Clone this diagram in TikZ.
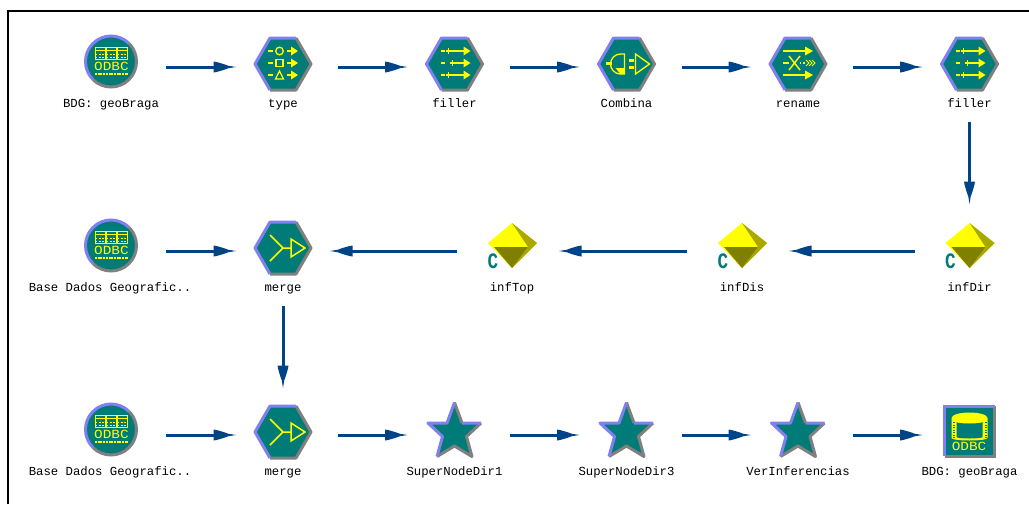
\documentclass[tikz,border=0pt]{standalone}
\usepackage{fontspec}
\setmonofont{Liberation Mono}
\usetikzlibrary{arrows.meta}
\definecolor{tealfill}{HTML}{007B78}
\definecolor{edgeblue}{HTML}{8080F0}
\definecolor{edgegray}{HTML}{808080}
\definecolor{linkblue}{HTML}{004488}
\definecolor{glyph}{HTML}{FFFF00}
\definecolor{olive}{HTML}{808000}
\definecolor{olivelight}{HTML}{A8A800}
\pgfdeclarearrow{
  name=LinkHead,
  setup code={
    \pgfarrowssettipend{22.5pt}
    \pgfarrowssetlineend{2pt}
    \pgfarrowssetbackend{0pt}
    \pgfarrowssetvisualbackend{0pt}
    \pgfarrowshullpoint{22.5pt}{0pt}
    \pgfarrowsupperhullpoint{0pt}{5.5pt}
  },
  drawing code={
    \pgfpathmoveto{\pgfqpoint{0pt}{5.5pt}}
    \pgfpathlineto{\pgfqpoint{3pt}{5pt}}
    \pgfpathlineto{\pgfqpoint{10pt}{3pt}}
    \pgfpathlineto{\pgfqpoint{15pt}{1.2pt}}
    \pgfpathlineto{\pgfqpoint{22.5pt}{0pt}}
    \pgfpathlineto{\pgfqpoint{15pt}{-1.2pt}}
    \pgfpathlineto{\pgfqpoint{10pt}{-3pt}}
    \pgfpathlineto{\pgfqpoint{3pt}{-5pt}}
    \pgfpathlineto{\pgfqpoint{0pt}{-5.5pt}}
    \pgfpathclose
    \pgfusepathqfill
  },
}
\tikzset{
  icon/.style={minimum size=59pt, inner sep=0pt, outer sep=0pt},
  lbl/.style={font=\ttfamily\fontsize{12.3}{14}\selectfont, inner sep=0pt, text=black, anchor=base},
  link/.style={draw=linkblue, line width=3pt, shorten <=25.5pt, shorten >=17.5pt, -LinkHead},
  mark line/.style={draw=glyph, line width=1.3pt},
  odbctxt/.style={font=\ttfamily\fontsize{12.5}{14}\selectfont, text=glyph, inner sep=0pt, xscale=1.15, transform shape},
  % hexagon frame
  hexbody/.pic={
    \fill[tealfill] (-28,0) -- (-13,-26) -- (13,-26) -- (28,0) -- (13,26) -- (-13,26) -- cycle;
    \draw[edgegray, line width=3pt, line join=round] (13,-26) -- (28,0) -- (13,26) -- (-13,26);
    \draw[edgeblue, line width=3pt, line join=round] (-13,26) -- (-28,0) -- (-13,-26) -- (13,-26);
  },
  % ODBC source
  srcicon/.pic={
    \begin{scope}[yshift=5.5pt]
    \fill[tealfill] (0,0) circle (25.5pt);
    \draw[edgeblue, line width=3pt] (45:25.5pt) arc[start angle=45, end angle=225, radius=25.5pt];
    \draw[edgegray, line width=3pt] (225:25.5pt) arc[start angle=225, end angle=405, radius=25.5pt];
    \foreach \xa in {-16,-5,6} {
      \draw[glyph, line width=.8pt] (\xa,-14) rectangle (\xa+10.5,-2);
      \draw[glyph, line width=1pt] (\xa,-11) -- (\xa+10.5,-11);
      \draw[glyph, line width=1pt, dash pattern=on 2pt off 1.5pt] (\xa,-7.5) -- (\xa+10.5,-7.5);
      \draw[glyph, line width=1pt, dash pattern=on 2pt off 1.5pt] (\xa,-4.5) -- (\xa+10.5,-4.5);
    }
    \node[odbctxt] (-txt) at (0.5,5) {ODBC};
    \draw[glyph, line width=2pt, dash pattern=on 2pt off .7pt] (-16,12.5) -- (17,12.5);
    \end{scope}
  },
  typeicon/.pic={
    \begin{scope}[yshift=3pt]
    \pic {hexbody};
    \foreach \ya in {-13,-1,11} {
      \draw[mark line] (-15,\ya) -- (-10,\ya);
      \draw[mark line] (4,\ya) -- (9,\ya);
      \fill[glyph] (8,\ya-4.5) -- (15,\ya) -- (8,\ya+4.5) -- cycle;
    }
    \draw[mark line] (-3.5,-13) circle (3.8pt);
    \draw[mark line] (-7,-4.5) rectangle (0,2.5);
    \draw[mark line] (-7.5,15) -- (-3.5,7) -- (0.5,15) -- cycle;
    \end{scope}
  },
  fillicon/.pic={
    \begin{scope}[yshift=3pt]
    \pic {hexbody};
    \foreach \ya/\xa in {-13/-6,-1/-2,11/-6} {
      \draw[mark line] (-14,\ya) -- (-9.5,\ya);
      \draw[mark line] (\xa-3,\ya) -- (\xa+3,\ya) (\xa,\ya-3) -- (\xa,\ya+3);
      \draw[mark line] (\xa+3,\ya) -- (10,\ya);
      \fill[glyph] (9,\ya-4.5) -- (16,\ya) -- (9,\ya+4.5) -- cycle;
    }
    \end{scope}
  },
  combineicon/.pic={
    \begin{scope}[yshift=3pt]
    \pic {hexbody};
    \fill[glyph] (-20.5,-2) rectangle (-14.5,1);
    \draw[mark line] (-2,-10) -- (-6,-10) arc[start angle=90, end angle=270, radius=10pt] -- (-2,10) -- cycle;
    \fill[glyph] (-11,4) -- (-2,4) -- (-2,10) -- (-6,10) -- cycle;
    \fill[glyph] (2,-5) rectangle (7,-2);
    \fill[glyph] (2,2) rectangle (7,5);
    \draw[mark line] (9,-10) -- (23,0) -- (9,10) -- cycle;
    \end{scope}
  },
  renameicon/.pic={
    \begin{scope}[yshift=3pt]
    \pic {hexbody};
    \foreach \ya in {-13,11} {
      \draw[mark line] (-15,\ya) -- (8,\ya);
      \fill[glyph] (7,\ya-4.5) -- (15,\ya) -- (7,\ya+4.5) -- cycle;
    }
    \draw[mark line] (-15,-1) -- (-9,-1);
    \draw[glyph, line width=1.4pt] (-9,-8) -- (2,6) (-9,6) -- (2,-8);
    \draw[mark line, dotted] (2,-1) -- (8,-1);
    \foreach \xa in {8,11,14}
      \draw[glyph, line width=.9pt] (\xa,-4) -- (\xa+3,-1) -- (\xa,2);
    \end{scope}
  },
  mergeicon/.pic={
    \begin{scope}[yshift=3pt]
    \pic {hexbody};
    \draw[glyph, line width=1.5pt] (-13,-13) -- (0,0) -- (-13,13) (0,0) -- (8,0);
    \draw[glyph, line width=1.5pt] (8,-9) -- (22,0) -- (8,9) -- cycle;
    \end{scope}
  },
  % yellow diamond
  diamicon/.pic={
    \begin{scope}[yshift=5.5pt]
    \fill[glyph] (0,-22.5) -- (25,-2.5) -- (0,22.5) -- (-24,-2.5) -- cycle;
    \fill[olivelight] (0,-22.5) -- (25,-2.5) -- (0,22.5) -- (16,1.5) -- cycle;
    \fill[olive] (-18,1.5) -- (16,1.5) -- (0,22.5) -- cycle;
    \node[font=\ttfamily\bfseries\fontsize{22}{22}\selectfont, text=tealfill, inner sep=0pt,
      xscale=.8, transform shape] (-c) at (-19,15.5) {C};
    \end{scope}
  },
  % supernode star
  staricon/.pic={
    \begin{scope}[yshift=5pt]
    \fill[tealfill] (0,-27.5) -- (7.5,-7) -- (26.5,-7) -- (12,6.5) -- (17.5,26.5) -- (0,16) -- (-17.5,26.5) -- (-12,6.5) -- (-26.5,-7) -- (-7.5,-7) -- cycle;
    \draw[edgegray, line width=3pt, line join=round] (0,-27.5) -- (7.5,-7) (26.5,-7) -- (12,6.5) -- (17.5,26.5) -- (0,16) -- (-17.5,26.5);
    \draw[edgeblue, line width=3pt, line join=round] (7.5,-7) -- (26.5,-7) (-17.5,26.5) -- (-12,6.5) -- (-26.5,-7) -- (-7.5,-7) -- (0,-27.5);
    \end{scope}
  },
  % ODBC target
  dbicon/.pic={
    \begin{scope}[yshift=4pt]
    \fill[tealfill] (-24.5,-24.5) rectangle (24.5,24.5);
    \draw[edgegray, line width=3pt] (25,-25) -- (25,25) -- (-25,25);
    \draw[edgeblue, line width=3pt] (-25,25) -- (-25,-25) -- (25,-25);
    \fill[glyph] (-18,-13) arc[start angle=180, end angle=0, x radius=18pt, y radius=5.5pt] -- (18,7) arc[start angle=0, end angle=-180, x radius=18pt, y radius=2.5pt] -- cycle;
    \fill[tealfill] (-13,-9) arc[start angle=180, end angle=360, x radius=13pt, y radius=1.5pt] -- (13,6) arc[start angle=0, end angle=-180, x radius=13pt, y radius=1.5pt] -- cycle;
    \draw[tealfill, line width=2pt, dash pattern=on 1pt off 1.5pt] (-16,-9) -- (-16,7) (16,-9) -- (16,7);
    \node[odbctxt] (-txt) at (-0.5,15) {ODBC};
    \end{scope}
  },
}
\begin{document}
\begin{tikzpicture}[x=1pt, y=-1pt]
\useasboundingbox (0,0) rectangle (1029,504);
\draw[black, line width=2pt] (8,504) -- (8,11) -- (1029,11);
% Nodes
% ---
% Row 1
% ---
\node [icon] (geoIn)   at (111,67) {};
\node [icon] (type)    at (283,67) {};
\node [icon] (fillA)   at (454.5,67) {};
\node [icon] (combina) at (626.5,67) {};
\node [icon] (rename)  at (798,67) {};
\node [icon] (fillB)   at (969.5,67) {};
% ---
% Row 2
% ---
\node [icon] (baseA)  at (111,251) {};
\node [icon] (mergeA) at (283,251) {};
\node [icon] (infTop) at (512,251) {};
\node [icon] (infDis) at (742,251) {};
\node [icon] (infDir) at (969.5,251) {};
% ---
% Row 3
% ---
\node [icon] (baseB)  at (111,435) {};
\node [icon] (mergeB) at (283,435) {};
\node [icon] (dirA)   at (454.5,435) {};
\node [icon] (dirB)   at (626.5,435) {};
\node [icon] (verInf) at (798,435) {};
\node [icon] (geoOut) at (969.5,435) {};
% Icons
\pic (geoInP)   at (geoIn.center)   {srcicon};
\pic (typeP)    at (type.center)    {typeicon};
\pic (fillAP)   at (fillA.center)   {fillicon};
\pic (combinaP) at (combina.center) {combineicon};
\pic (renameP)  at (rename.center)  {renameicon};
\pic (fillBP)   at (fillB.center)   {fillicon};
\pic (baseAP)   at (baseA.center)   {srcicon};
\pic (mergeAP)  at (mergeA.center)  {mergeicon};
\pic (infTopP)  at (infTop.center)  {diamicon};
\pic (infDisP)  at (infDis.center)  {diamicon};
\pic (infDirP)  at (infDir.center)  {diamicon};
\pic (baseBP)   at (baseB.center)   {srcicon};
\pic (mergeBP)  at (mergeB.center)  {mergeicon};
\pic (dirAP)    at (dirA.center)    {staricon};
\pic (dirBP)    at (dirB.center)    {staricon};
\pic (verInfP)  at (verInf.center)  {staricon};
\pic (geoOutP)  at (geoOut.center)  {dbicon};
% Labels
\node [lbl] (geoInL)   at (111,107) {BDG: geoBraga};
\node [lbl] (typeL)    at (283,107) {type};
\node [lbl] (fillAL)   at (454.5,107) {filler};
\node [lbl] (combinaL) at (626.5,107) {Combina};
\node [lbl] (renameL)  at (798,107) {rename};
\node [lbl] (fillBL)   at (969.5,107) {filler};
\node [lbl] (baseAL)   at (110,291) {Base Dados Geografic..};
\node [lbl] (mergeAL)  at (283,291) {merge};
\node [lbl] (infTopL)  at (512,291) {infTop};
\node [lbl] (infDisL)  at (742,291) {infDis};
\node [lbl] (infDirL)  at (969.5,291) {infDir};
\node [lbl] (baseBL)   at (110,475) {Base Dados Geografic..};
\node [lbl] (mergeBL)  at (283,475) {merge};
\node [lbl] (dirAL)    at (454.5,475) {SuperNodeDir1};
\node [lbl] (dirBL)    at (626.5,475) {SuperNodeDir3};
\node [lbl] (verInfL)  at (798,475) {VerInferencias};
\node [lbl] (geoOutL)  at (969.5,475) {BDG: geoBraga};
% Edges
\path [link] (geoIn) -- (type);
\path [link] (type) -- (fillA);
\path [link] (fillA) -- (combina);
\path [link] (combina) -- (rename);
\path [link] (rename) -- (fillB);
\path [link] (fillB) -- (infDir);
\path [link] (infDir) -- (infDis);
\path [link] (infDis) -- (infTop);
\path [link] (infTop) -- (mergeA);
\path [link] (baseA) -- (mergeA);
\path [link] (mergeA) -- (mergeB);
\path [link] (baseB) -- (mergeB);
\path [link] (mergeB) -- (dirA);
\path [link] (dirA) -- (dirB);
\path [link] (dirB) -- (verInf);
\path [link] (verInf) -- (geoOut);
\end{tikzpicture}
\end{document}
